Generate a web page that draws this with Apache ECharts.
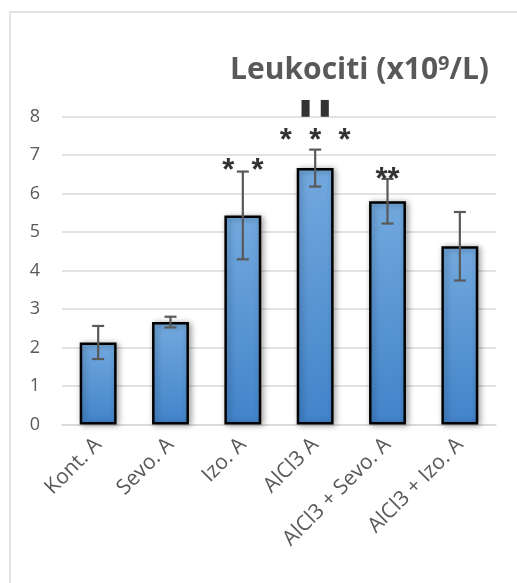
<!DOCTYPE html>
<html><head><meta charset="utf-8">
<script src="https://cdn.jsdelivr.net/npm/echarts@6/dist/echarts.min.js"></script>
<style>html,body{margin:0;padding:0;background:#fff}#c{width:517px;height:583px}</style>
</head><body><div id="c"></div>
<script>
var categories = ['Kont. A', 'Sevo. A', 'Izo. A', 'AlCl3 A', 'AlCl3 + Sevo. A', 'AlCl3 + Izo. A'];
var means = [2.13, 2.66, 5.43, 6.66, 5.80, 4.63];
var errors = [0.43, 0.14, 1.14, 0.48, 0.58, 0.89];
var yTicks = [0, 1, 2, 3, 4, 5, 6, 7, 8];
var annotText = ['', '', '*  *', '*  *  *', '**', ''];
var annotY = [null, null, 6.58, 7.36, 6.34, null];
var markText = ['', '', '', '▮ ▮', '', ''];
var markY = [null, null, null, 8.22, null, null];

var annotData = [];
categories.forEach(function (c, i) {
  if (annotText[i]) annotData.push({ value: [i, annotY[i]], label: { formatter: annotText[i] } });
});
var markData = [];
categories.forEach(function (c, i) {
  if (markText[i]) markData.push({ value: [i, markY[i]], label: { formatter: markText[i] } });
});
var errData = categories.map(function (c, i) { return [i, means[i] - errors[i], means[i] + errors[i]]; });

var chart = echarts.init(document.getElementById('c'), null, { renderer: 'canvas' });
chart.setOption({
  animation: false,
  backgroundColor: '#fff',
  textStyle: { fontFamily: 'Open Sans' },
  title: {
    text: 'Leukociti (x10{sup|9}/L)',
    right: 23, top: 49,
    textStyle: {
      fontFamily: 'Open Sans', fontWeight: 'bold', fontSize: 30, color: '#595959',
      rich: { sup: { fontFamily: 'Open Sans', fontWeight: 'bold', fontSize: 20, color: '#595959', verticalAlign: 'top', padding: [0, 0, 13, 0] } }
    }
  },
  graphic: [{
    type: 'rect', silent: true,
    shape: { x: 10, y: 12, width: 700, height: 800 },
    style: { fill: 'none', stroke: '#d9d9d9', lineWidth: 1.5 }
  }],
  grid: { left: 62, right: 21, top: 116.5, bottom: 158.5 },
  xAxis: {
    type: 'category', data: categories,
    axisLine: { lineStyle: { color: '#d9d9d9', width: 1.5 } },
    axisTick: { show: false },
    axisLabel: { rotate: 45, color: '#595959', fontSize: 21, fontFamily: 'Open Sans', margin: 17, interval: 0 }
  },
  yAxis: {
    type: 'value', min: 0, max: 8, interval: 1,
    axisLine: { show: false }, axisTick: { show: false },
    splitLine: { lineStyle: { color: '#d9d9d9', width: 1.5 } },
    axisLabel: { color: '#595959', fontSize: 18, fontFamily: 'Open Sans', margin: 22,
      formatter: function (v) { return yTicks.indexOf(v) >= 0 ? String(v) : ''; } }
  },
  series: [{
    type: 'bar', data: means, barWidth: '51%',
    itemStyle: {
      color: new echarts.graphic.LinearGradient(0, 0, 0, 1, [
        { offset: 0, color: '#72a9de' }, { offset: 1, color: '#4283c9' }
      ]),
      borderColor: '#000', borderWidth: 2.5,
      shadowBlur: 6, shadowColor: 'rgba(0,0,0,0.35)', shadowOffsetX: 2, shadowOffsetY: 1
    },
    z: 2
  }, {
    type: 'custom', data: errData, z: 3,
    renderItem: function (params, api) {
      var x = api.value(0);
      var lo = api.coord([x, api.value(1)]);
      var hi = api.coord([x, api.value(2)]);
      var hw = 6;
      var st = { stroke: '#595959', lineWidth: 2.2 };
      return { type: 'group', children: [
        { type: 'line', shape: { x1: lo[0], y1: lo[1], x2: hi[0], y2: hi[1] }, style: st },
        { type: 'line', shape: { x1: lo[0] - hw, y1: lo[1], x2: lo[0] + hw, y2: lo[1] }, style: st },
        { type: 'line', shape: { x1: hi[0] - hw, y1: hi[1], x2: hi[0] + hw, y2: hi[1] }, style: st }
      ] };
    }
  }, {
    type: 'scatter', data: annotData, symbolSize: 1, clip: false, z: 4,
    itemStyle: { color: 'rgba(0,0,0,0)' },
    label: { show: true, position: 'inside', color: '#000', fontSize: 31, fontWeight: 'bold', fontFamily: 'Liberation Sans', padding: [12, 0, 0, 0] }
  }, {
    type: 'scatter', data: markData, symbolSize: 1, clip: false, z: 4,
    itemStyle: { color: 'rgba(0,0,0,0)' },
    label: { show: true, position: 'inside', color: '#000', fontSize: 22, fontFamily: 'DejaVu Sans' }
  }]
});
</script></body></html>
